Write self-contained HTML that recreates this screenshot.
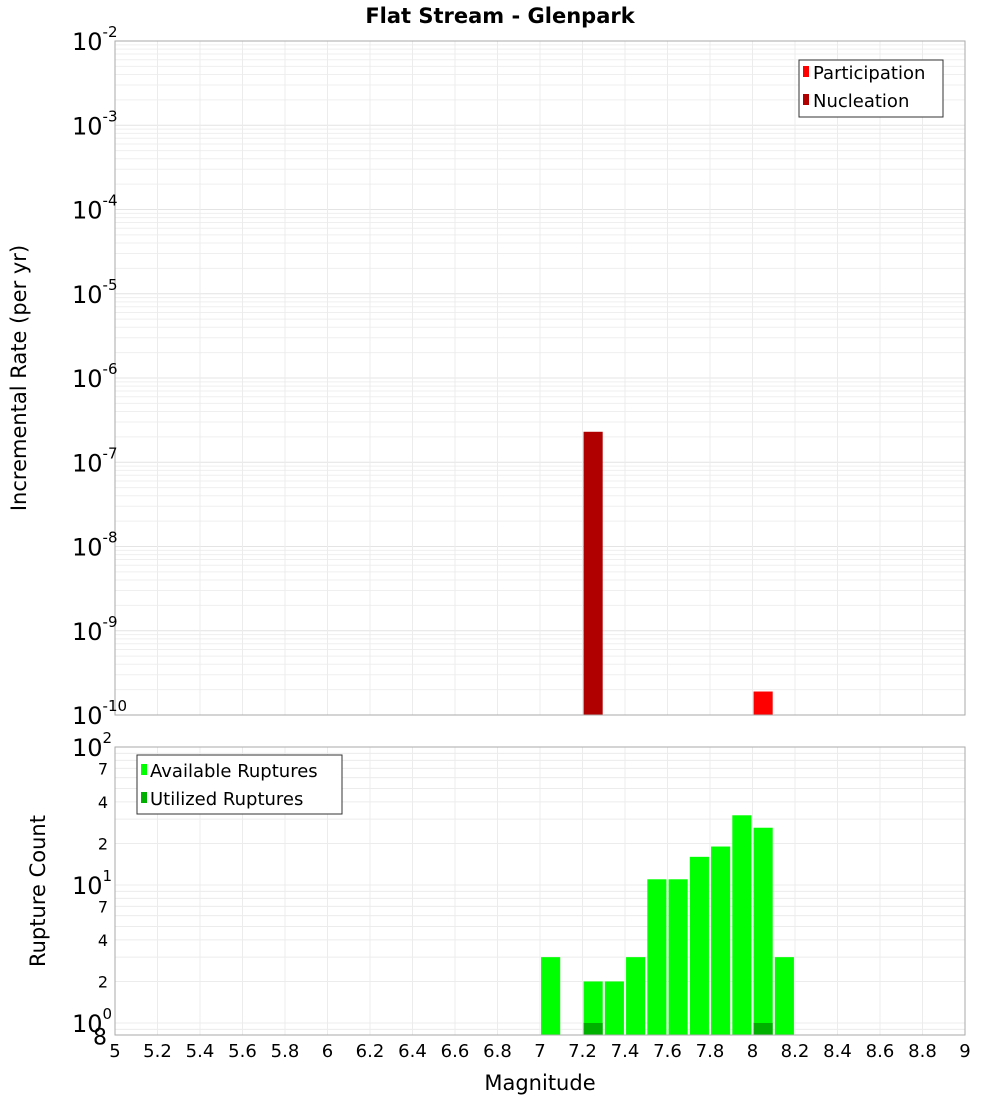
<!DOCTYPE html>
<html><head><meta charset="utf-8"><style>
body{margin:0;background:#fff;}
svg{display:block;font-family:"DejaVu Sans","Liberation Sans",sans-serif;}
</style></head><body>
<svg id="c" width="1000" height="1100" viewBox="0 0 1000 1100" xmlns="http://www.w3.org/2000/svg">
<text x="500" y="23" text-anchor="middle" font-size="21" font-weight="bold">Flat Stream - Glenpark</text>
<text transform="translate(26,378) rotate(-90)" text-anchor="middle" font-size="21">Incremental Rate (per yr)</text>
<text transform="translate(45,891) rotate(-90)" text-anchor="middle" font-size="21">Rupture Count</text>
<text x="540" y="1090" text-anchor="middle" font-size="21">Magnitude</text>
<g id="top"></g><g id="bot"></g>
</svg>
<script>
const partMags=[8.05];
const partRates=[1.9e-10];
const nuclMags=[7.25];
const nuclRates=[2.3e-7];
const availMags=[7.05,7.25,7.35,7.45,7.55,7.65,7.75,7.85,7.95,8.05,8.15];
const availCounts=[3,2,2,3,11,11,16,19,32,26,3];
const utilMags=[7.25,8.05];
const utilCounts=[1,1];
const xTicks=[5,5.2,5.4,5.6,5.8,6,6.2,6.4,6.6,6.8,7,7.2,7.4,7.6,7.8,8,8.2,8.4,8.6,8.8,9];
const topExps=[-2,-3,-4,-5,-6,-7,-8,-9,-10];

const NS="http://www.w3.org/2000/svg";
const svg=document.getElementById('c');
const L=115,R=965;
const X=m=>L+(m-5)/4*(R-L);
const T0=41,T1=715;
const YT=v=>T0+(-2-Math.log10(v))/8*(T1-T0);
const B0=747,B1=1035;
const YB=v=>B0+(2-Math.log10(v))*138;
function mk(tag,at,par){const e=document.createElementNS(NS,tag);for(const k in at)e.setAttribute(k,at[k]);(par||svg).appendChild(e);return e;}
const gT=document.getElementById('top'),gB=document.getElementById('bot');

let r=mk('rect',{x:L,y:T0,width:R-L,height:T1-T0,fill:'#fff',stroke:'none'},gT);

for(let e=-10;e<-2;e++)for(let k=1;k<10;k++){const y=YT(k*Math.pow(10,e));const ln=mk('line',{x1:L,x2:R,y1:y,y2:y,stroke:k==1?'#e4e4e4':'#efefef','stroke-width':1},gT);}
for(const t of xTicks){const ln=mk('line',{x1:X(t),x2:X(t),y1:T0,y2:T1,stroke:'#ececec'},gT);}
nuclMags.forEach((m,i)=>{const y=YT(nuclRates[i]);const b=mk('rect',{x:X(m-0.045),y:y,width:X(0.09)-X(0),height:T1-y,fill:'#b00000'},gT);});
partMags.forEach((m,i)=>{const y=YT(partRates[i]);const b=mk('rect',{x:X(m-0.045),y:y,width:X(0.09)-X(0),height:T1-y,fill:'#ff0000'},gT);});
r=mk('rect',{x:L,y:T0,width:R-L,height:T1-T0,fill:'none',stroke:'#aaa'},gT);

topExps.forEach(e=>{const y=YT(Math.pow(10,e));const t=mk('text',{x:72,y:y+9,'font-size':24},gT);t.textContent='10';const s=mk('tspan',{dy:-13,'font-size':15},t);s.textContent=String(e);});

let lg=mk('g',{},gT);
mk('rect',{x:799,y:60,width:144,height:57,fill:'#fff',stroke:'#333'},lg);
[['Participation','#ff0000',73],['Nucleation','#b00000',101]].forEach(([n,c,y])=>{const g=mk('g',{},lg);mk('rect',{x:803,y:y-7,width:6,height:11,fill:c},g);const t=mk('text',{x:813,y:y+6,'font-size':18},g);t.textContent=n;});

r=mk('rect',{x:L,y:B0,width:R-L,height:B1-B0,fill:'#fff'},gB);

for(let e=-1;e<2;e++)for(let k=1;k<10;k++){const v=k*Math.pow(10,e);const y=YB(v);if(y>B1||y<B0)continue;const ln=mk('line',{x1:L,x2:R,y1:y,y2:y,stroke:'#ececec'},gB);}
for(const t of xTicks){const ln=mk('line',{x1:X(t),x2:X(t),y1:B0,y2:B1,stroke:'#ececec'},gB);}
availMags.forEach((m,i)=>{const y=YB(availCounts[i]);const b=mk('rect',{x:X(m-0.045),y:y,width:X(0.09)-X(0),height:B1-y,fill:'#00ff00'},gB);});
utilMags.forEach((m,i)=>{const y=YB(utilCounts[i]);const b=mk('rect',{x:X(m-0.045),y:y,width:X(0.09)-X(0),height:B1-y,fill:'#00b000'},gB);});
r=mk('rect',{x:L,y:B0,width:R-L,height:B1-B0,fill:'none',stroke:'#aaa'},gB);

[[2,'2'],[1,'1'],[0,'0']].forEach(([e,s])=>{const y=YB(Math.pow(10,e));const t=mk('text',{x:72,y:y+9,'font-size':24},gB);t.textContent='10';const sp=mk('tspan',{dy:-13,'font-size':15},t);sp.textContent=s;});
[[70,'7'],[40,'4'],[20,'2'],[7,'7'],[4,'4'],[2,'2'],[0.8,'8']].forEach(([v,s])=>{const y=YB(v);const t=mk('text',{x:v==0.8?107:108,y:y+(v==0.8?8:6),'text-anchor':'end','font-size':v==0.8?22:16},gB);t.textContent=s;});
xTicks.forEach(v=>{const t=mk('text',{x:X(v),y:1057,'text-anchor':'middle','font-size':18},gB);t.textContent=String(v);});
lg=mk('g',{},gB);
mk('rect',{x:137,y:755,width:205,height:59,fill:'#fff',stroke:'#333'},lg);
[['Available Ruptures','#00ff00',770],['Utilized Ruptures','#00b000',798]].forEach(([n,c,y])=>{const g=mk('g',{},lg);mk('rect',{x:141,y:y-6,width:6,height:11,fill:c},g);const t=mk('text',{x:150,y:y+7,'font-size':18},g);t.textContent=n;});
</script>
</body></html>
